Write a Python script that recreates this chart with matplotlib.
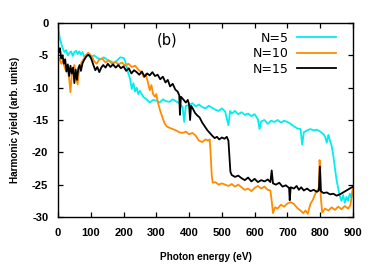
import matplotlib
matplotlib.use("Agg")
import matplotlib.pyplot as plt

# N=5 (cyan)
x5 = [0, 3, 6, 10, 15, 20, 25, 30, 35, 40, 45, 50, 55, 60, 65, 70, 75, 80, 90, 100,
      110, 120, 130, 140, 150, 160, 170, 180, 190, 200, 205, 210, 215, 220, 225, 230, 235, 240, 245, 250,
      260, 270, 280, 290, 300, 310, 320, 330, 340, 350, 360, 370, 380, 385, 390, 400, 410, 420, 430, 440,
      450, 460, 470, 480, 490, 500, 510, 520, 525, 530, 540, 550, 560, 570, 580, 590, 600, 610, 615, 620,
      630, 640, 650, 660, 670, 680, 690, 700, 710, 720, 730, 740, 745, 750, 760, 770, 780, 790, 800, 810,
      815, 820, 825, 830, 835, 840, 845, 850, 855, 860, 865, 870, 875, 880, 885, 890, 895, 900]
y5 = [-0.2, -1.5, -2.5, -3.2, -4.0, -4.5, -4.2, -5.0, -4.6, -4.4, -5.1, -4.5, -4.3, -4.8, -4.4, -4.9, -4.5, -5.2, -4.9, -5.3,
      -5.0, -5.4, -5.6, -5.3, -5.7, -5.9, -6.2, -5.8, -5.3, -5.4, -5.9, -6.8, -7.9, -8.6, -10.2, -9.3, -10.6, -10.0, -11.0, -10.5,
      -11.4, -11.8, -12.3, -11.9, -12.0, -12.3, -11.8, -12.1, -12.2, -11.8, -12.1, -12.4, -13.0, -15.3, -12.8, -12.7, -12.4, -12.9, -12.6, -13.0,
      -13.2, -12.8, -13.1, -13.4, -13.6, -13.2, -13.7, -15.8, -13.6, -14.0, -13.6, -14.1, -13.8, -14.2, -14.0, -14.4, -14.1, -14.9, -16.4, -15.2,
      -15.0, -15.6, -15.1, -15.3, -15.0, -15.4, -15.1, -15.3, -15.6, -16.0, -16.3, -16.4, -18.8, -16.9, -16.6, -16.4, -16.6, -16.5, -16.8, -17.2,
      -17.6, -18.5, -17.3, -18.2, -19.0, -20.5, -22.5, -24.3, -25.6, -26.8, -27.5, -26.6, -27.8, -26.9, -27.5, -26.4, -27.0, -25.6]

# N=10 (orange)
x10 = [0, 5, 10, 15, 20, 25, 30, 35, 38, 42, 45, 50, 55, 60, 63, 68, 72, 78, 85, 92,
       98, 105, 110, 118, 125, 135, 145, 155, 165, 175, 185, 195, 205, 215, 225, 235, 245, 255, 262, 268,
       275, 280, 285, 290, 296, 300, 306, 312, 318, 325, 332, 340, 350, 360, 370, 380, 390, 400, 410, 420,
       430, 440, 450, 458, 463, 466, 469, 472, 480, 490, 500, 510, 520, 530, 540, 550, 560, 570, 580, 590,
       600, 610, 620, 630, 640, 648, 652, 656, 662, 670, 680, 690, 700, 710, 720, 730, 740, 748, 755, 762,
       770, 778, 786, 792, 796, 798, 800, 802, 806, 815, 825, 835, 845, 855, 865, 875, 885, 892, 897, 900]
y10 = [-5.2, -5.6, -6.3, -5.8, -6.8, -7.5, -7.2, -9.0, -10.7, -8.0, -7.2, -6.5, -8.3, -9.5, -7.8, -6.9, -6.0, -5.6, -5.0, -4.6,
       -4.9, -5.3, -5.9, -6.3, -5.7, -5.5, -6.1, -5.8, -6.3, -6.0, -6.4, -6.1, -6.6, -6.3, -6.8, -6.6, -7.2, -7.6, -8.4, -7.9,
       -9.3, -10.4, -9.6, -11.0, -11.4, -11.0, -12.5, -13.6, -14.5, -15.5, -16.0, -16.2, -16.4, -16.6, -16.9, -17.0, -16.8, -17.2, -17.0, -17.4,
       -18.2, -18.4, -18.0, -18.2, -18.0, -20.5, -23.5, -24.7, -24.6, -25.0, -24.8, -25.0, -25.2, -24.9, -25.3, -25.0, -25.4, -25.8, -25.6, -26.0,
       -25.5, -25.2, -25.6, -25.3, -25.8, -25.9, -27.5, -29.4, -28.5, -28.7, -28.1, -28.4, -27.9, -27.7, -28.0, -28.6, -29.0, -29.4, -29.0, -29.5,
       -28.0, -27.3, -26.3, -25.8, -25.5, -21.2, -22.0, -27.0, -29.3, -28.7, -29.0, -28.5, -28.9, -28.4, -28.8, -28.3, -28.7, -28.2, -26.5, -25.5]

# N=15 (black)
x15 = [0, 3, 6, 10, 14, 18, 22, 26, 30, 34, 38, 42, 46, 50, 54, 58, 62, 66, 70, 75,
       80, 86, 92, 97, 102, 108, 114, 120, 126, 132, 138, 145, 152, 160, 168, 176, 184, 192, 200, 208,
       216, 224, 232, 240, 248, 256, 264, 272, 280, 288, 296, 304, 312, 320, 328, 335, 342, 350, 358, 365,
       370, 372, 375, 382, 390, 396, 400, 403, 406, 412, 418, 425, 432, 440, 448, 456, 463, 470, 478, 485,
       492, 500, 508, 515, 520, 523, 526, 530, 540, 550, 560, 570, 580, 590, 600, 610, 620, 630, 640, 648,
       652, 656, 665, 675, 685, 695, 705, 707, 710, 720, 728, 735, 742, 750, 760, 770, 780, 790, 796, 799,
       802, 810, 820, 830, 840, 850, 860, 870, 880, 890, 900]
y15 = [-3.6, -4.5, -3.9, -5.5, -5.0, -6.3, -5.6, -7.5, -6.4, -8.2, -6.6, -7.8, -6.9, -9.3, -7.2, -8.8, -7.0, -6.5, -7.4, -6.2,
       -5.7, -5.2, -4.9, -5.1, -5.6, -6.5, -7.3, -6.8, -7.6, -6.9, -6.5, -6.9, -6.3, -6.8, -6.4, -6.9, -6.5, -7.0, -6.7, -7.4,
       -7.0, -7.8, -7.3, -7.6, -8.0, -7.5, -8.3, -7.8, -8.1, -7.6, -8.2, -8.0, -8.7, -8.3, -9.2, -8.8, -9.8, -9.4, -10.3, -10.6,
       -11.2, -14.2, -11.4, -11.8, -12.3, -11.9, -12.6, -15.0, -12.8, -13.3, -13.9, -14.3, -14.6, -15.4, -16.0, -16.6, -17.0, -17.4, -17.8, -17.6,
       -18.0, -17.7, -17.9, -17.6, -18.2, -20.5, -23.0, -23.5, -23.8, -23.6, -24.0, -24.3, -23.9, -24.5, -24.1, -24.6, -24.3, -24.5, -24.2, -24.6,
       -22.8, -24.8, -25.0, -24.7, -25.3, -25.1, -25.5, -27.4, -25.4, -25.6, -25.2, -25.8, -25.4, -25.9, -25.6, -26.0, -25.8, -26.1, -25.9, -22.2,
       -26.0, -26.3, -26.2, -26.5, -26.4, -26.7, -26.5, -26.2, -25.9, -25.6, -25.3]

xticks = [0, 100, 200, 300, 400, 500, 600, 700, 800, 900]
yticks = [0, -5, -10, -15, -20, -25, -30]

fig = plt.figure(figsize=(3.8, 2.72), dpi=100)
ax = fig.add_axes([0.1526, 0.2022, 0.7763, 0.7132])

ax.plot(x5, y5, color='#00eeee', lw=1.3, label='N=5')
ax.plot(x10, y10, color='#ff8c00', lw=1.3, label='N=10')
ax.plot(x15, y15, color='black', lw=1.3, label='N=15')

ax.set_xlim(0, 900)
ax.set_ylim(-30, 0)
ax.set_xticks(xticks)
ax.set_yticks(yticks)
ax.set_xticklabels([str(t) for t in xticks], fontsize=8, fontweight='bold', family='Liberation Sans')
ax.set_yticklabels([str(t) for t in yticks], fontsize=8, fontweight='bold', family='Liberation Sans')
ax.tick_params(direction='in', length=3.6, width=0.9, top=True, right=True)
ax.tick_params(axis='x', pad=8)
ax.tick_params(axis='y', pad=7)
for s in ax.spines.values():
    s.set_linewidth(1.0)

ax.set_xlabel('Photon energy (eV)', fontsize=7.2, fontweight='bold', family='Liberation Sans', labelpad=10)
ax.set_ylabel('Harmonic yield (arb. units)', fontsize=7.2, fontweight='bold', family='Liberation Sans', labelpad=9)

ax.text(0.371, 0.912, '(b)', transform=ax.transAxes, ha='center', va='center', fontsize=10.5)

ax.legend(loc='upper right', bbox_to_anchor=(0.942, 0.955), frameon=False, markerfirst=False,
          fontsize=9, handlelength=3.1, handletextpad=0.7, labelspacing=0.2,
          borderpad=0, borderaxespad=0)

fig.savefig('out.png', dpi=100)
